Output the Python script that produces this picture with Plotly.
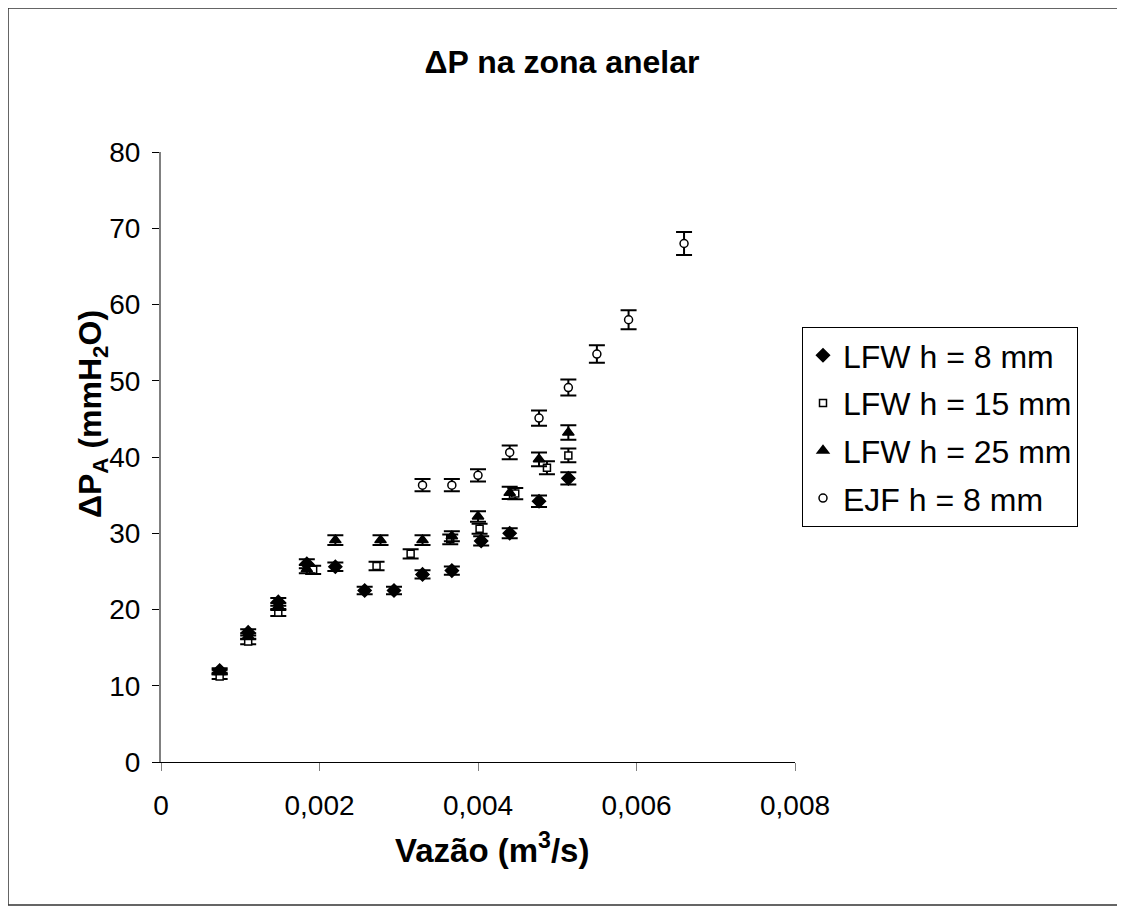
import plotly.graph_objects as go

# ---- data ----
lfw8_x = [0.00074, 0.0011, 0.00148, 0.00184, 0.0022, 0.00257, 0.00294, 0.0033, 0.00367, 0.00404, 0.0044, 0.00477, 0.00514]
lfw8_y = [12.0, 17.0, 21.0, 26.0, 25.6, 22.5, 22.5, 24.6, 25.1, 29.0, 30.0, 34.2, 37.2]
lfw8_e = [0.3, 0.4, 0.5, 0.6, 0.55, 0.5, 0.5, 0.55, 0.55, 0.6, 0.65, 0.75, 0.8]

lfw15_x = [0.00074, 0.0011, 0.00148, 0.00192, 0.00272, 0.00315, 0.00365, 0.00402, 0.00447, 0.00487, 0.00514]
lfw15_y = [11.2, 15.8, 19.6, 25.2, 25.7, 27.3, 29.2, 30.6, 35.2, 38.6, 40.2]
lfw15_e = [0.3, 0.35, 0.45, 0.55, 0.55, 0.6, 0.65, 0.65, 0.75, 0.85, 0.9]

lfw25_x = [0.00074, 0.0011, 0.00148, 0.00184, 0.0022, 0.00277, 0.0033, 0.00367, 0.004, 0.0044, 0.00477, 0.00514]
lfw25_y = [11.8, 16.5, 20.4, 25.3, 29.1, 29.1, 29.1, 29.6, 32.2, 35.3, 39.7, 43.2]
lfw25_e = [0.3, 0.4, 0.45, 0.55, 0.65, 0.65, 0.65, 0.65, 0.7, 0.8, 0.9, 0.95]

ejf8_x = [0.0033, 0.00367, 0.004, 0.0044, 0.00477, 0.00514, 0.0055, 0.0059, 0.0066]
ejf8_y = [36.3, 36.3, 37.6, 40.6, 45.1, 49.1, 53.5, 58.0, 68.0]
ejf8_e = [0.8, 0.8, 0.8, 0.9, 1.0, 1.05, 1.15, 1.25, 1.5]

series_names = ["LFW h = 8 mm", "LFW h = 15 mm", "LFW h = 25 mm", "EJF h = 8 mm"]
x_ticks = [0, 0.002, 0.004, 0.006, 0.008]
x_ticklabels = ["0", "0,002", "0,004", "0,006", "0,008"]
y_ticks = [0, 10, 20, 30, 40, 50, 60, 70, 80]

FONT = "Liberation Sans, Arial, sans-serif"

fig = go.Figure()

def add(x, y, e, name, symbol, size, fill, group):
    fig.add_trace(go.Scatter(
        x=x, y=y, mode="markers", name=name, legendgroup=group,
        marker=dict(symbol=symbol, size=size, color=fill,
                    line=dict(color="black", width=1.5)),
        error_y=dict(type="data", array=e, visible=True, color="black",
                     thickness=2, width=8),
    ))

add(lfw8_x, lfw8_y, lfw8_e, series_names[0], "diamond", 10, "black", "a")
add(lfw15_x, lfw15_y, lfw15_e, series_names[1], "square", 7, "white", "b")
add(lfw25_x, lfw25_y, lfw25_e, series_names[2], "triangle-up", 10, "black", "c")
add(ejf8_x, ejf8_y, ejf8_e, series_names[3], "circle", 8, "white", "d")

# page has an 8px body margin, so the figure is laid out in (reference px - 8)
W, H = 1117, 904
L, T = 153, 144

fig.update_layout(
    width=W, height=H,
    paper_bgcolor="white", plot_bgcolor="white",
    margin=dict(l=L, r=W - L - 634, t=T, b=H - T - 610),
    separators=",.",
    font=dict(family=FONT, color="black", size=28),
    title=dict(text="<b>ΔP na zona anelar</b>", x=(562 - 161) / 634, xref="paper",
               xanchor="center", y=1 - (62 - 8) / H, yref="container", yanchor="middle",
               font=dict(size=32, family=FONT)),
    showlegend=True,
    legend=dict(x=(802 - 161) / 634, y=(762 - 327) / 610, xanchor="left", yanchor="top",
                bordercolor="black", borderwidth=1, bgcolor="white",
                font=dict(size=32, family=FONT), tracegroupgap=3,
                traceorder="grouped", itemsizing="trace", itemwidth=30),
)

fig.update_xaxes(range=[0, 0.008], tickvals=x_ticks, ticktext=x_ticklabels,
                 showgrid=False, zeroline=False, showline=True, linecolor="black",
                 linewidth=1, ticks="outside", ticklen=8, tickcolor="#808080",
                 tickfont=dict(size=28), ticklabelstandoff=10, fixedrange=True)
fig.update_yaxes(range=[0, 80], tickvals=y_ticks, showgrid=False, zeroline=False,
                 showline=True, linecolor="#808080", linewidth=2, ticks="outside",
                 ticklen=7, tickcolor="black", tickfont=dict(size=28),
                 ticklabelstandoff=6, fixedrange=True)

fig.add_annotation(text="<b>Vazão (m<sup>3</sup>/s)</b>", xref="paper", yref="paper",
                   x=(492 - 161) / 634, y=(762 - 848) / 610, showarrow=False,
                   xanchor="center", yanchor="middle", font=dict(size=33, family=FONT))
fig.add_annotation(text="<b>ΔP<sub>A</sub> (mmH<sub>2</sub>O)</b>", xref="paper", yref="paper",
                   x=(92 - 161) / 634, y=(762 - 414) / 610, showarrow=False, textangle=-90,
                   xanchor="center", yanchor="middle", font=dict(size=32, family=FONT))

fig.add_shape(type="rect", xref="paper", yref="paper",
              x0=(8 - 161) / 634, x1=(1118 - 161) / 634,
              y0=(762 - 905) / 610, y1=(762 - 8) / 610,
              line=dict(color="#333333", width=1.5), fillcolor="rgba(0,0,0,0)", layer="below")

fig.write_html("out.html")
